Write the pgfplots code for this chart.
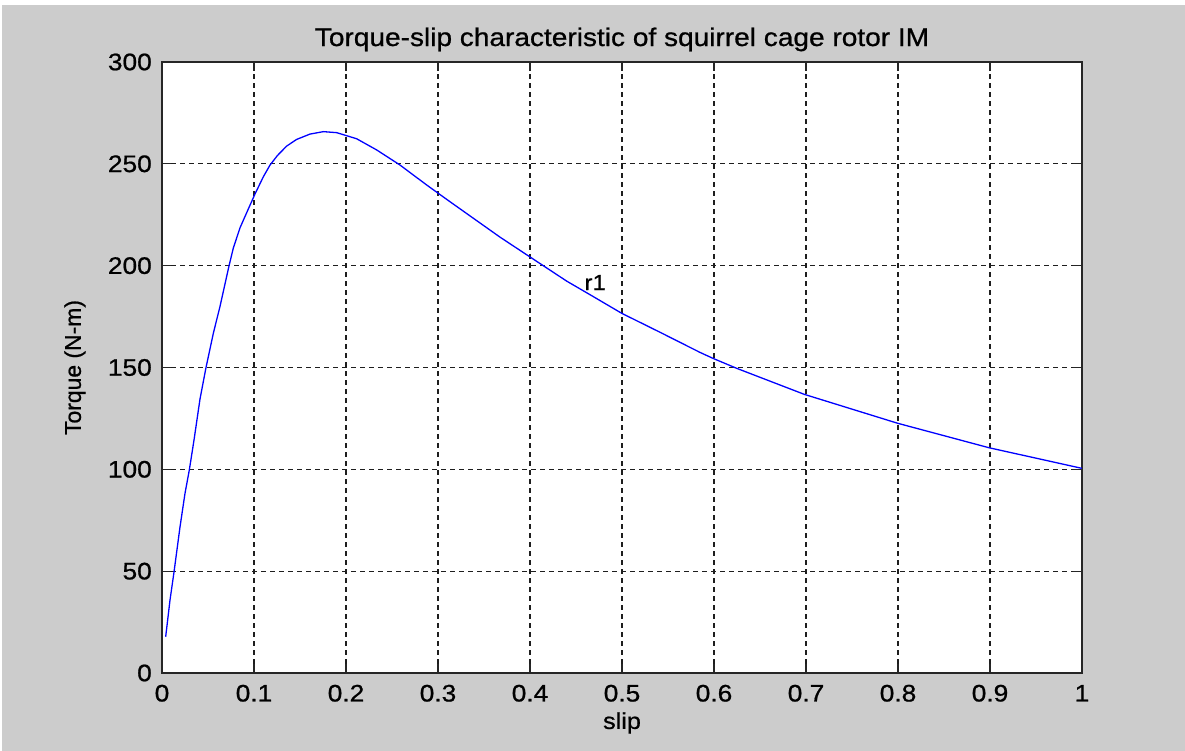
\documentclass[border=0pt]{standalone}
\usepackage{fontspec}
\setmainfont[FakeStretch=1.1,FakeBold=0.8]{Liberation Sans}
\newfontfamily\plainsans[FakeBold=0.8]{Liberation Sans}
\usepackage{pgfplots}
\pgfplotsset{compat=1.18}
\definecolor{bggray}{RGB}{204,204,204}
\definecolor{gridc}{RGB}{30,30,30}
\begin{document}
\begin{tikzpicture}[x=1bp,y=1bp]
\fill[white] (0,0) rectangle (1185,751);
\fill[bggray] (2,0) rectangle (1185,746);
\useasboundingbox (0,0) rectangle (1185,751);
\begin{axis}[
  at={(162bp,78bp)}, anchor=south west,
  scale only axis, width=920bp, height=611bp,
  xmin=0, xmax=1, ymin=0, ymax=300,
  xtick={0,0.1,0.2,0.3,0.4,0.5,0.6,0.7,0.8,0.9,1},
  xticklabels={0,0.1,0.2,0.3,0.4,0.5,0.6,0.7,0.8,0.9,1},
  ytick={0,50,100,150,200,250,300},
  yticklabels={0,50,100,150,200,250,300},
  grid=major,
  major grid style={gridc, line width=1.25bp, dash pattern=on 5bp off 4bp},
  axis line style={black!85, line width=1.8bp},
  tick style={black!85, line width=1.2bp},
  major tick length=9bp,
  tick align=inside,
  axis background/.style={fill=white},
  /pgf/number format/assume math mode=true,
  xticklabel style={font=\fontsize{24}{28}\selectfont, inner sep=0pt, anchor=base, yshift=-28.5bp},
  yticklabel style={font=\fontsize{24}{28}\selectfont, inner sep=0pt, anchor=east, xshift=-10bp},
  title={Torque-slip characteristic of squirrel cage rotor IM},
  title style={font=\fontsize{25.6}{30}\selectfont, at={(axis description cs:0.5,1)}, anchor=base, yshift=10bp, inner sep=0pt},
  xlabel={slip},
  xlabel style={font=\fontsize{23}{27}\selectfont, at={(axis description cs:0.5,-0.0818)}, anchor=center, inner sep=0pt},
  ylabel={Torque (N-m)},
  ylabel style={font=\plainsans\fontsize{23}{27}\selectfont, at={(axis description cs:-0.0946,0.5)}, anchor=center, inner sep=0pt},
]
\addplot[color={rgb,255:red,0;green,0;blue,255}, line width=1.3bp] coordinates {
(0.0040,17.8) (0.0087,35.8) (0.0130,49.4) (0.0196,71.8) (0.0250,88.2)
(0.0297,99.7) (0.0348,114.4) (0.0413,134.5) (0.0478,149.9) (0.0558,166.8)
(0.0630,179.9) (0.0728,199.8) (0.0775,208.6) (0.0848,218.6) (0.0938,227.8)
(0.1011,235.2) (0.1101,243.6) (0.1174,249.4) (0.1255,254.1) (0.1355,258.7)
(0.1464,262.0) (0.1609,264.6) (0.1754,265.8) (0.1899,265.3) (0.2116,262.3)
(0.2334,256.8) (0.2587,249.4) (0.2877,239.6) (0.3130,231.4) (0.3674,214.0)
(0.3989,204.6) (0.4399,192.4) (0.4688,184.8) (0.4997,176.6) (0.5413,167.3)
(0.5848,157.4) (0.5993,154.4) (0.6246,149.6) (0.6982,136.8) (0.7997,122.6)
(0.8989,110.6) (0.9997,100.5)
};
\node[anchor=west, inner sep=0pt, font=\fontsize{22}{26}\selectfont] at (axis cs:0.459,191.7) {r1};
\end{axis}
\end{tikzpicture}
\end{document}
